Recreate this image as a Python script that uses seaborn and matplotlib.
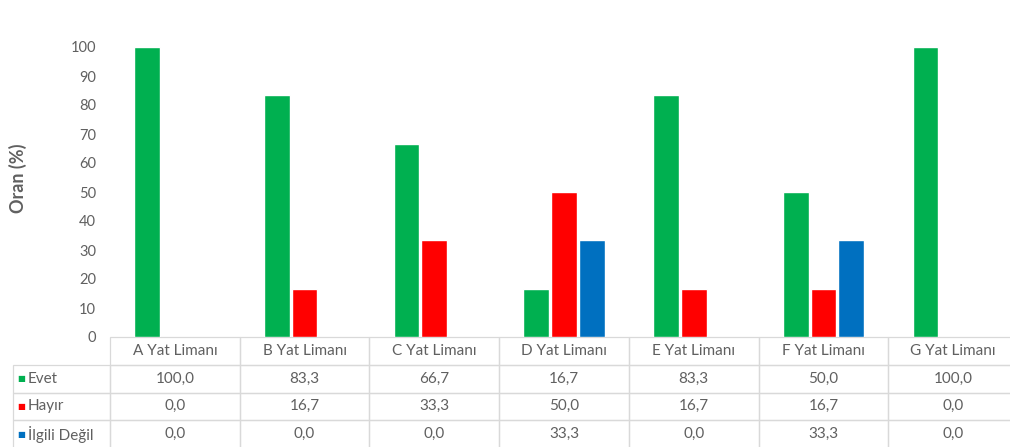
import matplotlib
matplotlib.use("Agg")
import matplotlib.pyplot as plt
import seaborn as sns
import pandas as pd
from matplotlib.table import Table

# Data
limanlar = ["A Yat Limanı", "B Yat Limanı", "C Yat Limanı", "D Yat Limanı",
            "E Yat Limanı", "F Yat Limanı", "G Yat Limanı"]
yanitlar = ["Evet", "Hayır", "İlgili Değil"]
evet = [100.0, 83.3, 66.7, 16.7, 83.3, 50.0, 100.0]
hayir = [0.0, 16.7, 33.3, 50.0, 16.7, 16.7, 0.0]
ilgili_degil = [0.0, 0.0, 0.0, 33.3, 0.0, 33.3, 0.0]
y_ticks = list(range(0, 101, 10))

renkler = {"Evet": "#00B050", "Hayır": "#FF0000", "İlgili Değil": "#0070C0"}
gri = "#606060"
cizgi = "#D9D9D9"

seriler = [evet, hayir, ilgili_degil]
df = pd.DataFrame([
    {"Liman": l, "Yanıt": y, "Oran": v}
    for y, vals in zip(yanitlar, seriler)
    for l, v in zip(limanlar, vals)
])

sns.set_theme(style="white")
plt.rcParams["font.family"] = ["Lato", "DejaVu Sans"]

W, H = 1010, 447
fig = plt.figure(figsize=(W / 100, H / 100), dpi=100)
ax_l, ax_r, ax_b, ax_t = 110, 1018, 337, 47
ax = fig.add_axes([ax_l / W, (H - ax_b) / H, (ax_r - ax_l) / W, (ax_b - ax_t) / H])

sns.barplot(data=df, x="Liman", y="Oran", hue="Yanıt", order=limanlar,
            hue_order=yanitlar, palette=renkler, width=0.64, gap=0.07,
            saturation=1, errorbar=None, legend=False, ax=ax)

ax.set_ylim(0, 100)
ax.set_xlim(-0.5, len(limanlar) - 0.5)
ax.set_yticks(y_ticks)
ax.set_yticklabels([str(t) for t in y_ticks], color=gri, fontsize=10.5)
ax.tick_params(axis="y", length=0, pad=10)
ax.set_xticks([])
ax.set_xlabel("")
ax.set_ylabel("")
for s in ax.spines.values():
    s.set_visible(False)

fig.text(18 / W, 1 - 178 / H, "Oran (%)", rotation=90, ha="center", va="center",
         color=gri, fontsize=13, fontweight="bold")

# Data table under the plot area
tbl_l, tbl_r, tbl_t, tbl_b = 13, 1018, 337, 448
aw, ah = ax_r - ax_l, ax_b - ax_t
first_w = ax_l - tbl_l
col_w = aw / len(limanlar)
row_h = (tbl_b - tbl_t) / 4

table = Table(ax, bbox=[(tbl_l - ax_l) / aw, -(tbl_b - tbl_t) / ah,
                        (tbl_r - tbl_l) / aw, (tbl_b - tbl_t) / ah])
rows = [[""] + limanlar]
for y, vals in zip(yanitlar, seriler):
    rows.append([y] + [f"{v:.1f}".replace(".", ",") for v in vals])

for r, row in enumerate(rows):
    for c, txt in enumerate(row):
        w = first_w if c == 0 else col_w
        cell = table.add_cell(r, c, width=w, height=row_h, text=txt,
                              loc="left" if c == 0 else "center",
                              edgecolor=cizgi, facecolor="none")
        cell.set_linewidth(0.9)
        cell.get_text().set_color(gri)
        cell.get_text().set_fontsize(11)
        if c == 0:
            cell.PAD = 0.15
            if r == 0:
                cell.visible_edges = ""
table.auto_set_font_size(False)
ax.add_table(table)

# Series colour keys beside the row labels
for i, y in enumerate(yanitlar):
    yc = tbl_t + row_h * (i + 1.5)
    ax.text((21 - ax_l) / aw, -(yc - ax_b) / ah, "■", transform=ax.transAxes,
            ha="center", va="center", fontsize=6, color=renkler[y],
            family="DejaVu Sans")

fig.savefig("out.png", dpi=100)
